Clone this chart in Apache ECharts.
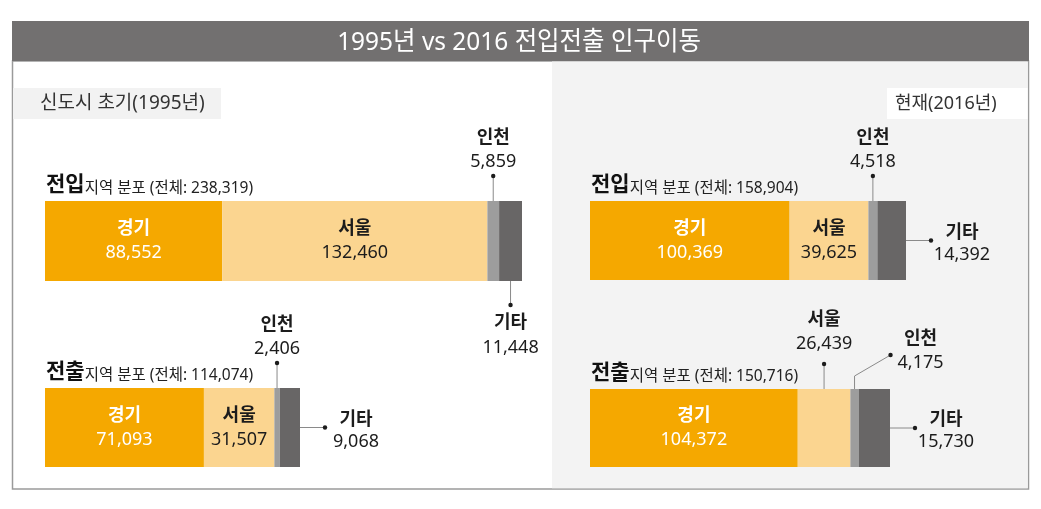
<!DOCTYPE html>
<html>
<head>
<meta charset="utf-8">
<script src="https://cdn.jsdelivr.net/npm/echarts@6/dist/echarts.min.js"></script>
<style>
  html, body { margin: 0; padding: 0; background: #fff; }
  #chart { width: 1041px; height: 509px; }
</style>
</head>
<body>
<div id="chart"></div>
<script>
// 데이터
const regions = ['경기', '서울', '인천', '기타'];
const inflow1995 = [88552, 132460, 5859, 11448];
const outflow1995 = [71093, 31507, 2406, 9068];
const inflow2016 = [100369, 39625, 4518, 14392];
const outflow2016 = [104372, 26439, 4175, 15730];

const FONT = '"Noto Sans", "Noto Sans CJK KR", sans-serif';
const palette = ['#f5a800', '#fbd590', '#9d9d9d', '#686666'];
const ink = '#1c1c1c';

// 패널별 배치 (위치/스타일만)
const panels = [
    { kind: '전입', values: inflow1995, grid: { left: 45, top: 201, width: 477, height: 80 },
      callouts: [{ region: 2, side: 'top' }, { region: 3, side: 'bottom' }] },
    { kind: '전출', values: outflow1995, grid: { left: 45, top: 388, width: 255, height: 79 },
      callouts: [{ region: 2, side: 'top' }, { region: 3, side: 'right' }] },
    { kind: '전입', values: inflow2016, grid: { left: 590, top: 201, width: 316, height: 79 },
      callouts: [{ region: 2, side: 'top' }, { region: 3, side: 'right' }] },
    { kind: '전출', values: outflow2016, grid: { left: 590, top: 389, width: 300, height: 78 },
      callouts: [{ region: 1, side: 'top', lift: 6 }, { region: 2, side: 'elbow' }, { region: 3, side: 'right' }] }
];

const fmt = v => v.toLocaleString('en-US');
const sum = arr => arr.reduce((a, b) => a + b, 0);

function barSeries(p, i) {
    const external = p.callouts.map(c => c.region);
    return regions.map((name, r) => ({
        type: 'bar',
        name: name,
        stack: 'p' + i,
        xAxisIndex: i,
        yAxisIndex: i,
        barWidth: '100%',
        data: [p.values[r]],
        itemStyle: { color: palette[r] },
        label: {
            show: external.indexOf(r) < 0,
            position: 'inside',
            formatter: q => '{n|' + q.seriesName + '}\n{v|' + fmt(q.value) + '}',
            rich: {
                n: { fontFamily: FONT, fontSize: 18, fontWeight: 'bold', lineHeight: 24, color: r === 0 ? '#fff' : ink },
                v: { fontFamily: FONT, fontSize: 18, lineHeight: 24, color: r === 0 ? '#fff' : ink }
            }
        }
    }));
}

// 바깥 라벨 (지시선 + 점 + 텍스트)
function calloutSeries(p, i) {
    const starts = [];
    p.values.reduce((acc, v, k) => { starts[k] = acc; return acc + v; }, 0);
    return {
        type: 'custom',
        xAxisIndex: i,
        yAxisIndex: i,
        z: 5,
        silent: true,
        encode: { x: [0, 1], y: 2 },
        data: p.callouts.map(c => [starts[c.region], starts[c.region] + p.values[c.region], 0]),
        renderItem: function (params, api) {
            const c = p.callouts[params.dataIndex];
            const a = api.coord([api.value(0), 0]);
            const b = api.coord([api.value(1), 0]);
            const h = api.size([0, 1])[1];
            const midX = (a[0] + b[0]) / 2, cy = a[1];
            const top = cy - h / 2, bottom = cy + h / 2;
            const lift = c.lift || 0;
            let pts, tx, ny, vy;
            if (c.side === 'top') {
                pts = [[midX, top], [midX, top - 25]];
                tx = midX; ny = top - 63 - lift; vy = top - 39 - lift;
            } else if (c.side === 'bottom') {
                pts = [[midX, bottom], [midX, bottom + 24]];
                tx = midX; ny = bottom + 42; vy = bottom + 67;
            } else if (c.side === 'right') {
                pts = [[b[0], cy], [b[0] + 25, cy]];
                tx = b[0] + 56; ny = cy - 8; vy = cy + 14;
            } else {
                pts = [[midX, top], [midX, top - 13], [midX + 36, top - 34]];
                tx = midX + 66; ny = top - 50; vy = top - 26;
            }
            const dot = pts[pts.length - 1];
            return {
                type: 'group',
                children: [
                    { type: 'polyline', shape: { points: pts }, style: { stroke: '#8a8a8a', lineWidth: 1, fill: null } },
                    { type: 'circle', shape: { cx: dot[0], cy: dot[1], r: 2.2 }, style: { fill: ink } },
                    { type: 'text', style: { text: regions[c.region], x: tx, y: ny, align: 'center', verticalAlign: 'middle',
                        fontFamily: FONT, fontSize: 18, fontWeight: 'bold', fill: ink } },
                    { type: 'text', style: { text: fmt(p.values[c.region]), x: tx, y: vy, align: 'center', verticalAlign: 'middle',
                        fontFamily: FONT, fontSize: 18, fill: ink } }
                ]
            };
        }
    };
}

const headlines = panels.map(p => ({
    type: 'text',
    x: p.grid.left + 1,
    y: p.grid.top - 18,
    style: {
        text: '{b|' + p.kind + '}{n|지역 분포 (전체: ' + fmt(sum(p.values)) + ')}',
        verticalAlign: 'middle',
        rich: {
            b: { fontFamily: FONT, fontSize: 21, fontWeight: 'bold', fill: '#111', lineHeight: 26, verticalAlign: 'bottom' },
            n: { fontFamily: FONT, fontSize: 15.5, fill: '#222', lineHeight: 26, verticalAlign: 'bottom' }
        }
    }
}));

const chart = echarts.init(document.getElementById('chart'));
chart.setOption({
    animation: false,
    graphic: [
        { type: 'rect', z: -10, shape: { x: 12.5, y: 61, width: 1016, height: 428 }, style: { fill: '#fff', stroke: '#9a9a9a', lineWidth: 1.5 } },
        { type: 'rect', z: -9, shape: { x: 552, y: 61.5, width: 475.8, height: 426.8 }, style: { fill: '#f3f3f3' } },
        { type: 'rect', z: -8, shape: { x: 12, y: 21, width: 1017, height: 40 }, style: { fill: '#727070' } },
        { type: 'text', z: -7, x: 519, y: 43, scaleX: 0.94,
          style: { text: '1995년 vs 2016 전입전출 인구이동', align: 'center', verticalAlign: 'middle',
                   fontFamily: FONT, fontSize: 26, fill: '#fff' } },
        { type: 'rect', z: -8, shape: { x: 13, y: 88, width: 208, height: 31 }, style: { fill: '#f2f2f2' } },
        { type: 'text', z: -7, x: 40, y: 104,
          style: { text: '신도시 초기(1995년)', verticalAlign: 'middle', fontFamily: FONT, fontSize: 19, fill: '#333' } },
        { type: 'rect', z: -8, shape: { x: 887, y: 88, width: 140.5, height: 31 }, style: { fill: '#fff' } },
        { type: 'text', z: -7, x: 895, y: 104,
          style: { text: '현재(2016년)', verticalAlign: 'middle', fontFamily: FONT, fontSize: 18, fill: '#333' } }
    ].concat(headlines),
    grid: panels.map(p => Object.assign({ containLabel: false }, p.grid)),
    xAxis: panels.map((p, i) => ({ gridIndex: i, type: 'value', min: 0, max: sum(p.values), show: false })),
    yAxis: panels.map((p, i) => ({ gridIndex: i, type: 'category', data: ['전체'], show: false })),
    series: [].concat(
        ...panels.map(barSeries),
        panels.map(calloutSeries)
    )
});
</script>
</body>
</html>
